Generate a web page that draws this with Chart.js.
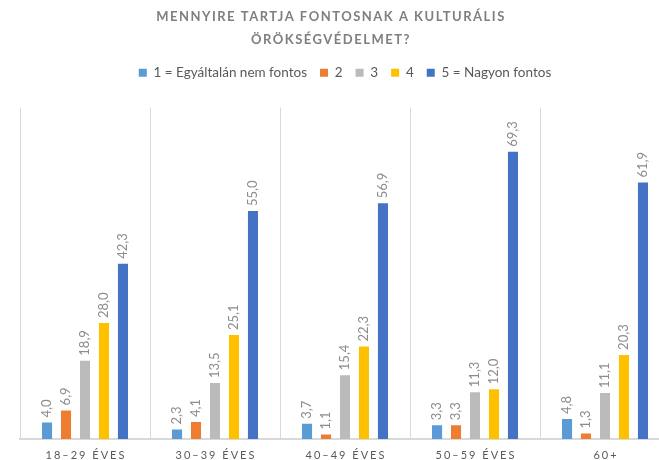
<!DOCTYPE html>
<html>
<head>
<meta charset="utf-8">
<script src="https://cdn.jsdelivr.net/npm/chart.js@4"></script>
<style>
  html, body { margin: 0; padding: 0; background: #fff; overflow: hidden; }
  #wrap { position: relative; width: 680px; height: 460px; }
</style>
</head>
<body>
<div id="wrap"><canvas id="myChart"></canvas></div>
<script>
const titleLines = ['MENNYIRE TARTJA FONTOSNAK A KULTURÁLIS', 'ÖRÖKSÉGVÉDELMET?'];
const categories = ['18–29 ÉVES', '30–39 ÉVES', '40–49 ÉVES', '50–59 ÉVES', '60+'];
const seriesNames = ['1 = Egyáltalán nem fontos', '2', '3', '4', '5 = Nagyon fontos'];
const colors = ['#5B9BD5', '#ED7D31', '#BBBBBB', '#FFC000', '#4472C4'];
const s1 = [4.0, 2.3, 3.7, 3.3, 4.8];
const s2 = [6.9, 4.1, 1.1, 3.3, 1.3];
const s3 = [18.9, 13.5, 15.4, 11.3, 11.1];
const s4 = [28.0, 25.1, 22.3, 12.0, 20.3];
const s5 = [42.3, 55.0, 56.9, 69.3, 61.9];
const allSeries = [s1, s2, s3, s4, s5];

const fontFam = 'Lato, "Open Sans", sans-serif';

// extra room under the legend
const legendGap = {
    id: 'legendGap',
    beforeInit(chart) {
        const origFit = chart.legend.fit;
        chart.legend.fit = function () {
            origFit.bind(chart.legend)();
            this.height += 18;
        };
    }
};

// draws title, rotated value labels and spaced category labels
const extras = {
    id: 'extras',
    afterDraw(chart) {
        const ctx = chart.ctx;
        ctx.save();
        ctx.fillStyle = '#7f7f7f';
        ctx.font = 'bold 13px ' + fontFam;
        ctx.letterSpacing = '1.5px';
        ctx.textAlign = 'center';
        ctx.textBaseline = 'middle';
        ctx.fillText(titleLines[0], 331, 17);
        ctx.fillText(titleLines[1], 331, 40);

        // category labels
        ctx.fillStyle = '#595959';
        ctx.font = '11px ' + fontFam;
        ctx.letterSpacing = '2px';
        const xs = chart.scales.x;
        categories.forEach((c, i) => {
            ctx.fillText(c, xs.getPixelForValue(i) + 1, 455);
        });

        // value labels
        ctx.letterSpacing = '0px';
        ctx.fillStyle = '#8c8c8c';
        ctx.font = '13px ' + fontFam;
        ctx.textAlign = 'left';
        chart.data.datasets.forEach((ds, di) => {
            chart.getDatasetMeta(di).data.forEach((bar, i) => {
                ctx.save();
                ctx.translate(bar.x, bar.y - 5);
                ctx.rotate(-Math.PI / 2);
                ctx.fillText(ds.data[i].toFixed(1).replace('.', ','), 0, 0);
                ctx.restore();
            });
        });
        ctx.restore();
    }
};

const ctx = document.getElementById('myChart').getContext('2d');
new Chart(ctx, {
    type: 'bar',
    data: {
        labels: categories,
        datasets: allSeries.map((d, i) => ({
            label: seriesNames[i],
            data: d,
            backgroundColor: colors[i],
            categoryPercentage: 0.73,
            barPercentage: 0.53
        }))
    },
    options: {
        responsive: true,
        maintainAspectRatio: false,
        animation: false,
        layout: { padding: { top: 53, left: 20, right: 10, bottom: 21 } },
        plugins: {
            tooltip: { enabled: false },
            legend: {
                position: 'top',
                labels: {
                    boxWidth: 8,
                    boxHeight: 8,
                    padding: 13,
                    color: '#595959',
                    font: { family: fontFam, size: 13.5 }
                }
            }
        },
        scales: {
            x: {
                grid: { color: '#d9d9d9', drawTicks: false },
                border: { color: '#d9d9d9', width: 2 },
                ticks: { display: false }
            },
            y: {
                display: false,
                min: 0,
                max: 80
            }
        }
    },
    plugins: [extras, legendGap]
});
</script>
</body>
</html>
